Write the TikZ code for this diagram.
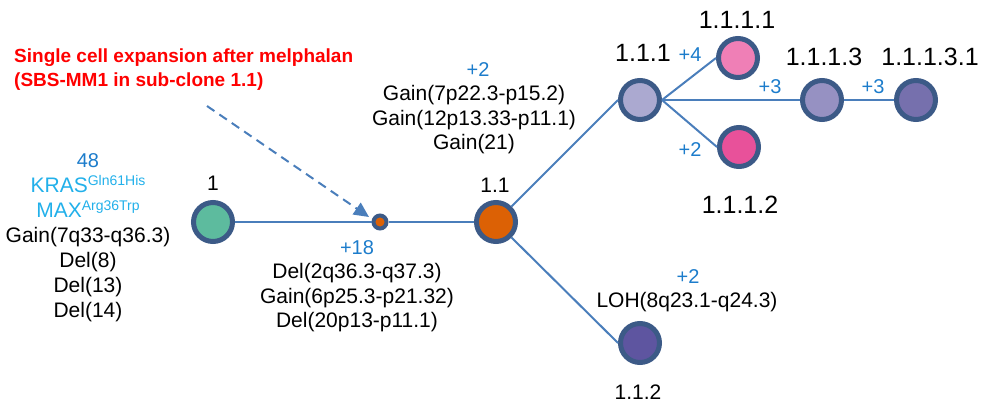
\documentclass[tikz,border=0pt]{standalone}
\usepackage{fontspec}
\setmainfont{Liberation Sans}
\usetikzlibrary{arrows.meta}
\definecolor{edgeblue}{HTML}{4A7EBB}
\definecolor{bord}{HTML}{3C5A87}
\definecolor{incblue}{HTML}{1C7CCB}
\definecolor{cyanmut}{HTML}{22B0EA}
\definecolor{cteal}{HTML}{5DBB9E}
\definecolor{corange}{HTML}{DC6105}
\definecolor{clav}{HTML}{ABA9D0}
\definecolor{cpink}{HTML}{EF7FB6}
\definecolor{chot}{HTML}{E8519A}
\definecolor{cmid}{HTML}{9691C2}
\definecolor{cdeep}{HTML}{7670AD}
\definecolor{cpurp}{HTML}{5E55A0}
\newcommand{\supx}[1]{\raisebox{7pt}{\fontsize{14}{14}\selectfont #1}}
\begin{document}
\begin{tikzpicture}[x=1pt,y=-1pt,
  clone/.style={circle, draw=bord, line width=5pt, minimum size=39pt, inner sep=0pt},
  lbl/.style={font=\fontsize{25}{28}\selectfont, inner sep=0pt},
  lbls/.style={font=\fontsize{21}{24}\selectfont, inner sep=0pt},
  txt/.style={font=\fontsize{21}{24.5}\selectfont, align=center, inner sep=0pt},
  inc/.style={font=\fontsize{20}{23}\selectfont, text=incblue, inner sep=0pt},
  link/.style={draw=edgeblue, line width=2pt}]
\useasboundingbox (0,0) rectangle (985,407);

% edges first (behind clones)
\coordinate (p1) at (213,222);
\coordinate (p0) at (380,222);
\coordinate (p11) at (496,222);
\coordinate (p111) at (640,100);
\coordinate (p1111) at (738,58);
\coordinate (p1112) at (739,147);
\coordinate (p1113) at (822,100);
\coordinate (p11131) at (916,100);
\coordinate (p112) at (640,343);

% clones
\node[clone, fill=cteal] (n1) at (p1) {};
\node[circle, draw=bord, line width=4pt, minimum size=13pt, inner sep=0pt, fill=corange] (n0) at (p0) {};
\node[clone, fill=corange] (n11) at (p11) {};
\node[clone, fill=clav] (n111) at (p111) {};
\node[clone, fill=cpink] (n1111) at (p1111) {};
\node[clone, fill=chot] (n1112) at (p1112) {};
\node[clone, fill=cmid] (n1113) at (p1113) {};
\node[clone, fill=cdeep] (n11131) at (p11131) {};
\node[clone, fill=cpurp] (n112) at (p112) {};

% connectors
\draw[link] (n1.east) -- (n0.west);
\draw[link] (n0.east) -- (n11.west);
\draw[link] (n11.north east) -- (n111.west);
\draw[link] (n11.south east) -- (n112.west);
\draw[link] (n111.east) -- (n1111.west);
\draw[link] (n111.east) -- (n1112.west);
\draw[link] (n111.east) -- (n1113.west);
\draw[link] (n1113.east) -- (n11131.west);

% dashed annotation arrow
\coordinate (astart) at (207,106);
\coordinate (aend) at (369,217);
\draw[draw=edgeblue, line width=2pt, dash pattern=on 9pt off 6pt,
  -{Triangle[length=15pt,width=14pt]}, color=edgeblue] (astart) -- (aend);

% annotation text
\node[anchor=west, align=left, text=red, inner sep=0pt,
  font=\fontsize{19}{24}\selectfont\bfseries] (note) at (14,70)
  {Single cell expansion after melphalan\\(SBS-MM1 in sub-clone 1.1)};

% clone labels
\node[lbls] (l1) at (213,183) {1};
\node[lbls] (l11) at (495,185) {1.1};
\node[lbl] (l111) at (643,53) {1.1.1};
\node[lbl] (l1111) at (737,20) {1.1.1.1};
\node[lbl] (l1113) at (824,57) {1.1.1.3};
\node[lbl] (l11131) at (930,57) {1.1.1.3.1};
\node[lbl] (l1112) at (740,205) {1.1.1.2};
\node[lbls] (l112) at (638,392) {1.1.2};

% increments
\node[inc] (i1111) at (690,55) {+4};
\node[inc] (i1113) at (770,87) {+3};
\node[inc] (i11131) at (873,87) {+3};
\node[inc] (i1112) at (690,150) {+2};
\node[inc] (i111) at (478,70) {+2};
\node[inc] (i0) at (357,248) {+18};
\node[inc] (i112) at (688,277) {+2};

% event lists
\node[txt, font=\fontsize{21}{25}\selectfont] (ev1) at (88,238)
  {{\fontsize{20}{20}\selectfont\color{incblue}48}\\
   {\color{cyanmut}KRAS\supx{Gln61His}}\\
   {\color{cyanmut}MAX\supx{Arg36Trp}}\\
   Gain(7q33-q36.3)\\Del(8)\\Del(13)\\Del(14)};
\node[txt] (ev111) at (474,120)
  {Gain(7p22.3-p15.2)\\Gain(12p13.33-p11.1)\\Gain(21)};
\node[txt] (ev0) at (357,298)
  {Del(2q36.3-q37.3)\\Gain(6p25.3-p21.32)\\Del(20p13-p11.1)};
\node[txt] (ev112) at (687,302) {LOH(8q23.1-q24.3)};
\end{tikzpicture}
\end{document}
